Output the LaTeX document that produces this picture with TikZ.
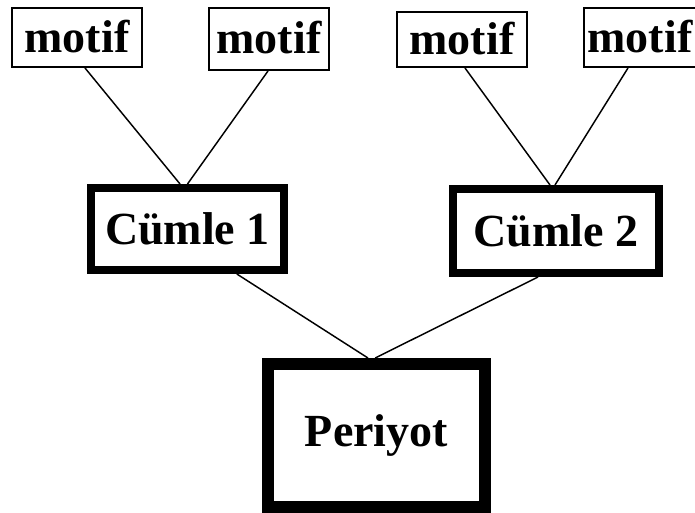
\documentclass[tikz,border=0pt]{standalone}
\usepackage{fontspec}
\setmainfont{Liberation Serif}
\tikzset{%
  box/.style      = {shape=rectangle, draw, fill=white, align=center,%
                     inner sep=1pt, font=\fontsize{34.5pt}{40pt}\selectfont\bfseries},%
  motifbox/.style = {box, line width=1.5pt, text depth=0.25em},%
  cumlebox/.style = {box, line width=6pt},%
  periyotbox/.style = {box, line width=9pt},%
  link/.style     = {line width=1.1pt}%
}
\begin{document}
\begin{tikzpicture}[x=0.75pt,y=-0.75pt]
		\useasboundingbox (0,0) rectangle (695,513);
		\clip (0,0) rectangle (695,513);
		\node [motifbox, minimum width=97.5pt, minimum height=44.25pt] (m1) at (77,37.5) {motif};
		\node [motifbox, minimum width=90pt, minimum height=46.5pt] (m2) at (269,39) {motif};
		\node [motifbox, minimum width=97.5pt, minimum height=41.25pt] (m3) at (462,39.5) {motif};
		\node [motifbox, minimum width=84pt, minimum height=44.25pt] (m4) at (640,37.5) {motif};
		\node [cumlebox, minimum width=144.75pt, minimum height=61.5pt] (c1) at (187.5,229) {Cümle 1};
		\node [cumlebox, minimum width=154.5pt, minimum height=63pt] (c2) at (556,231) {Cümle 2};
		\node [periyotbox, minimum width=162.75pt, minimum height=107.25pt] (p) at (376.5,435.5) {Periyot};
		\draw [link] ([xshift=6pt]m1.south) -- ([xshift=-5.6pt]c1.north);
		\draw [link] ([xshift=-0.75pt]m2.south) -- (c1.north);
		\draw [link] ([xshift=2.25pt]m3.south) -- ([xshift=-4.5pt]c2.north);
		\draw [link] ([xshift=-9pt]m4.south) -- ([xshift=-0.75pt]c2.north);
		\draw [link] ([xshift=37pt]c1.south) -- ([xshift=-6.4pt]p.north);
		\draw [link] ([xshift=-13.5pt]c2.south) -- ([xshift=-1pt]p.north);
		\end{tikzpicture}
\end{document}
